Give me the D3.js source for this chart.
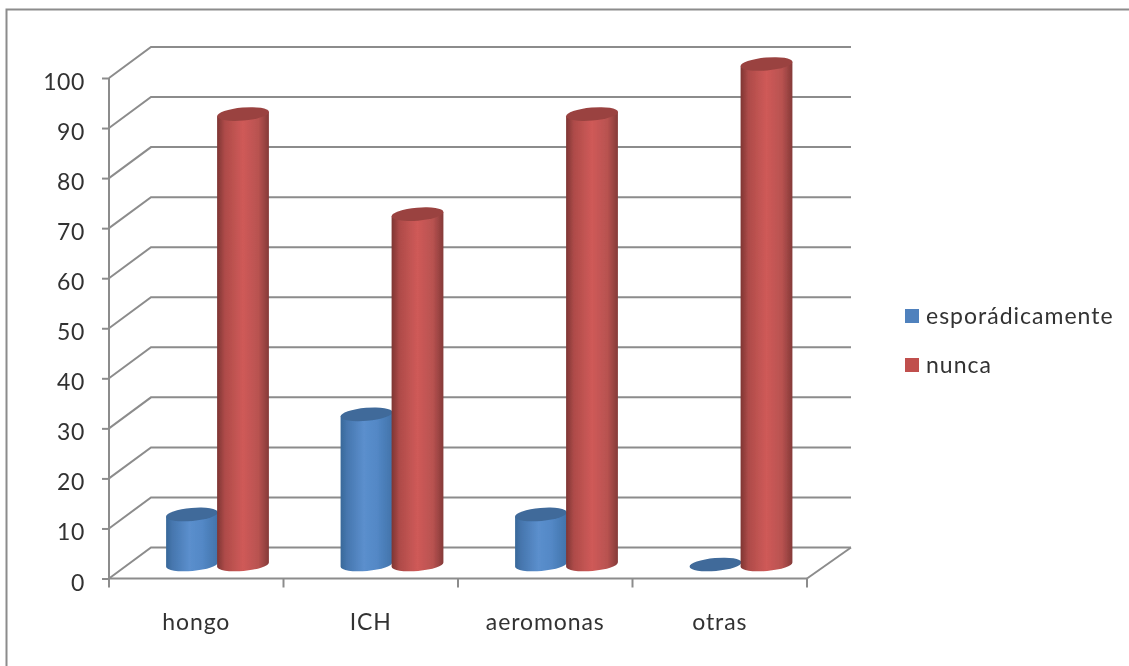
<!DOCTYPE html>
<html><head><meta charset="utf-8">
<script src="https://cdn.jsdelivr.net/npm/d3@7"></script>
<style>html,body{margin:0;padding:0;background:#fff;overflow:hidden}svg{display:block}text{font-family:Lato,"Open Sans",sans-serif;fill:#333}</style>
</head><body><svg id="c" width="1129" height="666"></svg>
<script>
const categories = ["hongo","ICH","aeromonas","otras"];
const seriesNames = ["esporádicamente","nunca"];
const esporadicamente = [10,30,10,0];
const nunca = [90,70,90,100];
const yTicks = [0,10,20,30,40,50,60,70,80,90,100];

const svg = d3.select("#c");
const defs = svg.append("defs");
const soft = defs.append("filter").attr("id","soft").attr("filterUnits","userSpaceOnUse")
  .attr("x",0).attr("y",0).attr("width",1129).attr("height",666);
soft.append("feGaussianBlur").attr("stdDeviation",0.6);
function grad(id,stops){
  const g = defs.append("linearGradient").attr("id",id);
  stops.forEach(s=>g.append("stop").attr("offset",s[0]).attr("stop-color",s[1]));
}
grad("g0",[[0,"#386899"],[0.12,"#4676ae"],[0.45,"#5b8fcd"],[0.7,"#5388c6"],[1,"#4273aa"]]);
grad("g1",[[0,"#7e3533"],[0.15,"#ae4b49"],[0.5,"#cf5a58"],[0.8,"#b85250"],[1,"#853a38"]]);
const topFill = ["#3f6a9a","#9a4341"];
const legendFill = ["#4f81bd","#c0504d"];

const root = svg.append("g").attr("filter","url(#soft)");
const grey = "#8c8c8c";
const fontPx = "23px";

// frame
root.append("path").attr("d","M6.5,666V9.5H1129").attr("fill","none").attr("stroke",grey).attr("stroke-width",2);

const x = d3.scaleBand().domain(categories).range([109,807]);
const inner = d3.scaleBand().domain(seriesNames).range([57.5,159.5]);
const y = d3.scaleLinear().domain([0,100]).range([578.5,78]);
const dx = 42, dy = -31, baseDy = -14;

// gridlines on side + back walls
const gl = root.append("g").attr("fill","none").attr("stroke",grey).attr("stroke-width",2);
yTicks.forEach(t=>{
  gl.append("path").attr("d",`M${x.range()[0]},${y(t)}L${x.range()[0]+dx},${y(t)+dy}H${x.range()[1]+dx+2}`);
});
// floor right edge
gl.append("path").attr("d",`M${x.range()[1]},${y(0)}L${x.range()[1]+dx+2},${y(0)+dy}`);

// y axis
const yAxis = root.append("g").attr("transform",`translate(${x.range()[0]},0)`)
  .call(d3.axisLeft(y).tickValues(yTicks).tickSize(7).tickPadding(17));
// x axis
const xAxis = root.append("g").attr("transform",`translate(0,${y(0)})`)
  .call(d3.axisBottom(x).tickSize(0).tickPadding(35));
[yAxis,xAxis].forEach(a=>{
  a.selectAll("path,line").attr("stroke",grey).attr("stroke-width",2);
  a.selectAll("text").style("font-family","Lato").style("font-size",fontPx).attr("fill","#333");
  a.select(".domain").attr("d",a===yAxis?`M0,${y(100)}V${y(0)}`:`M${x.range()[0]},0H${x.range()[1]}`);
});
yAxis.selectAll("text").attr("dy","0.5em").style("letter-spacing","0.6px");
xAxis.selectAll("text").style("letter-spacing","0.9px");
root.append("g").selectAll("line").data(d3.range(categories.length+1)).join("line")
  .attr("x1",i=>x.range()[0]+i*x.bandwidth()).attr("x2",i=>x.range()[0]+i*x.bandwidth())
  .attr("y1",y(0)).attr("y2",y(0)+9).attr("stroke",grey).attr("stroke-width",2);

// cylinders
const rows = categories.map((c,i)=>({c,vals:[esporadicamente[i],nunca[i]]}));
const tilt = -5, ry = 6.5;
const cosT = Math.cos(tilt*Math.PI/180), sinT = Math.sin(tilt*Math.PI/180);
const bars = root.append("g");
rows.forEach(r=>{
  r.vals.forEach((v,s)=>{
    const rx = inner.bandwidth()/2 + 0.5;
    const cx = x(r.c)+inner(seriesNames[s])+inner.bandwidth()/2;
    const top = y(v)+baseDy, base = y(0)+baseDy;
    const lx = cx-rx*cosT, rxx = cx+rx*cosT;
    const ly = -rx*sinT, ryy = rx*sinT;
    if(v>0){
      bars.append("path")
        .attr("d",`M${lx},${top+ly}L${lx},${base+ly}A${rx},${ry} ${tilt} 0 0 ${rxx},${base+ryy}L${rxx},${top+ryy}Z`)
        .attr("fill",`url(#g${s})`);
    }
    bars.append("ellipse").attr("rx",rx).attr("ry",ry)
      .attr("transform",`translate(${cx},${top}) rotate(${tilt})`)
      .attr("fill",topFill[s]);
  });
});

// legend
const lg = root.append("g");
seriesNames.forEach((n,i)=>{
  lg.append("rect").attr("x",905).attr("y",309+i*49).attr("width",14).attr("height",14).attr("fill",legendFill[i]);
  lg.append("text").attr("x",926).attr("y",323.5+i*49).style("font-size",fontPx).style("letter-spacing","1px").text(n);
});
</script></body></html>
